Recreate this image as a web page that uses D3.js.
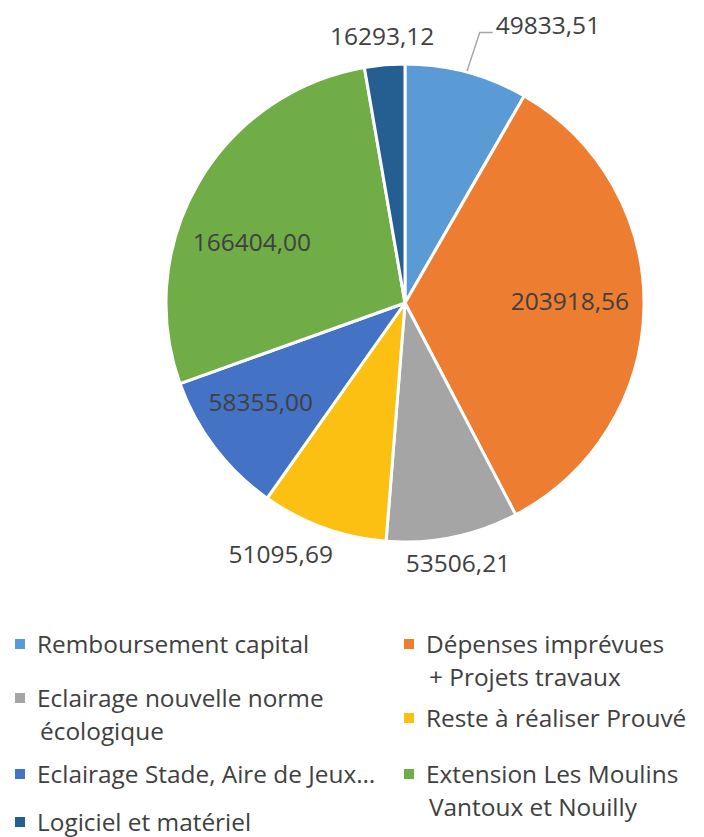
<!DOCTYPE html>
<html><head><meta charset="utf-8">
<script src="https://cdn.jsdelivr.net/npm/d3@7/dist/d3.min.js"></script>
<style>body{margin:0;background:#fff}svg{display:block}text{font-family:"Open Sans",sans-serif;fill:#404040}</style>
</head><body>
<script>
const categories = ["Remboursement capital","Dépenses imprévues + Projets travaux","Eclairage nouvelle norme écologique","Reste à réaliser Prouvé","Eclairage Stade, Aire de Jeux…","Extension Les Moulins Vantoux et Nouilly","Logiciel et matériel"];
const values = [49833.51, 203918.56, 53506.21, 51095.69, 58355.00, 166404.00, 16293.12];
const valueLabels = ["49833,51","203918,56","53506,21","51095,69","58355,00","166404,00","16293,12"];
const colors = ["#5B9BD5","#ED7D31","#A5A5A5","#FBC012","#4472C4","#70AD47","#255E91"];
const legendLines = [["Remboursement capital"],["Dépenses imprévues","+ Projets travaux"],["Eclairage nouvelle norme","écologique"],["Reste à réaliser Prouvé"],["Eclairage Stade, Aire de Jeux…"],["Extension Les Moulins","Vantoux et Nouilly"],["Logiciel et matériel"]];

// layout
const W=704,H=837,cx=405,cy=303,R=239;
const labelLayout=[{r:1.31,da:12.2,leader:true},{r:0.69,da:-2},{r:1.11,da:0},{r:1.17,da:6.5},{r:0.73,da:3},{r:0.69,da:-8.5},{r:1.125,da:0}];
const legendPos=[{x:15,y:643},{x:404,y:643},{x:15,y:697},{x:404,y:717},{x:15,y:773},{x:404,y:773},{x:15,y:821}];

const svg=d3.select("body").append("svg").attr("width",W).attr("height",H);
const g=svg.append("g").attr("transform",`translate(${cx},${cy})`);
const pie=d3.pie().sort(null).value(d=>d)(values);
const arc=d3.arc().innerRadius(0).outerRadius(R);
g.selectAll("path.s").data(pie).join("path").attr("class","s")
 .attr("d",arc).attr("fill",(d,i)=>colors[i]).attr("stroke","#fff").attr("stroke-width",3).attr("stroke-linejoin","round");

const pt=(a,r)=>[r*Math.sin(a),-r*Math.cos(a)];
pie.forEach((d,i)=>{
  const L=labelLayout[i];
  const mid=(d.startAngle+d.endAngle)/2;
  const a=mid+L.da*Math.PI/180;
  const [x,y]=pt(a,R*L.r);
  const t=g.append("text").attr("x",x).attr("y",y).attr("text-anchor","middle").attr("dominant-baseline","central")
   .attr("font-size",24.5).text(valueLabels[i]);
  if(L.leader){
    const bb=t.node().getBBox();
    const [x0,y0]=pt(mid,R+1);
    const ly=y+8;
    g.append("polyline").attr("points",`${x0},${y0} ${bb.x-16},${ly} ${bb.x-3},${ly}`)
     .attr("fill","none").attr("stroke","#A6A6A6").attr("stroke-width",1.5);
  }
});

const lg=svg.append("g");
legendLines.forEach((lines,i)=>{
  const p=legendPos[i];
  lg.append("rect").attr("x",p.x).attr("y",p.y-4).attr("width",10).attr("height",10).attr("fill",colors[i]);
  lines.forEach((t,j)=>{
    lg.append("text").attr("x",p.x+22+(j?3:0)).attr("y",p.y+j*33).attr("dominant-baseline","central")
     .attr("font-size",24.4).text(t);
  });
});
</script>
</body></html>
